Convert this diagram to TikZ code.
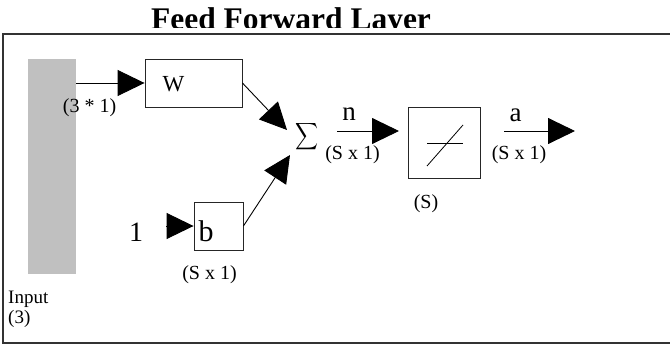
\documentclass[tikz,border=0pt]{standalone}
\usepackage{fontspec}
\setmainfont{Liberation Serif}
\usetikzlibrary{arrows.meta}
\begin{document}
\begin{tikzpicture}[x=1pt,y=-1pt,
  boxline/.style={draw=black!85, line width=0.9pt, inner sep=0pt},
  arr/.style={draw=black, line width=0.9pt, -{Triangle[length=27pt,width=26pt]}},
  lbl/.style={font=\fontsize{20}{22}\selectfont, inner sep=0pt},
  big/.style={font=\fontsize{27}{30}\selectfont, inner sep=0pt},
]
\useasboundingbox (0,0) rectangle (670,345);
% title (clipped at the bottom as in the reference)
\begin{scope}
  \clip (0,0) rectangle (670,27.5);
  \node[font=\fontsize{31.5}{34}\selectfont\bfseries, inner sep=0pt, anchor=base] (title) at (291,29.5) {Feed Forward Layer};
\end{scope}
% frame
\draw[draw=black!80, line width=1.5pt] (673,34) -- (3,34) -- (3,343) -- (673,343);
% input bar
\node[fill={rgb,255:red,192;green,192;blue,192}, minimum width=48pt, minimum height=215pt, inner sep=0pt] (bar) at (52,166.5) {};
% boxes
\node[boxline, minimum width=97pt, minimum height=48pt] (W) at (193.5,83) {};
\node[font=\fontsize{23}{25}\selectfont, inner sep=0pt, anchor=base] (Wl) at (173.5,92) {W};
\node[boxline, minimum width=49pt, minimum height=48pt] (b) at (218.5,226) {};
\node[font=\fontsize{30}{32}\selectfont, inner sep=0pt, anchor=base] (bl) at (206,241) {b};
\node[font=\fontsize{28}{30}\selectfont, inner sep=0pt, anchor=base] (one) at (136,241) {1};
\node[boxline, minimum width=72pt, minimum height=71pt] (tf) at (444,142.5) {};
\draw[line width=0.8pt] (427,143) -- (463,143);
\draw[line width=0.8pt] (427,166) -- (463,125);
% summation
\node[inner sep=0pt] (sigma) at (306.5,137) {\resizebox*{23pt}{30pt}{$\displaystyle\sum$}};
% coordinates for free arrow ends
\coordinate (s1) at (287,130);
\coordinate (s2) at (290,155);
\coordinate (oneTail) at (166,226);
\coordinate (nTail) at (337,131);
\coordinate (nTip) at (399,131);
\coordinate (aTail) at (504,131);
\coordinate (aTip) at (575,131);
% connectors
\draw[arr] (bar.east |- W.west) -- (W.west);
\draw[arr] (W.east) -- (s1);
\draw[arr] (oneTail) -- (b.west);
\draw[arr] (b.east) -- (s2);
\draw[arr] (nTail) -- (nTip);
\draw[arr] (aTail) -- (aTip);
% labels
\node[lbl] (d31) at (89.5,108) {(3 * 1)};
\node[big, anchor=base] (nl) at (349,121) {n};
\node[big, anchor=base] (al) at (515.5,121.5) {a};
\node[lbl] (dn) at (352.5,155) {(S x 1)};
\node[lbl] (da) at (519,155) {(S x 1)};
\node[lbl] (db) at (209.5,275) {(S x 1)};
\node[lbl] (ds) at (426,203.5) {(S)};
\node[font=\fontsize{19}{20}\selectfont, inner sep=0pt, anchor=base west] (inp) at (8,303) {Input};
\node[font=\fontsize{19}{20}\selectfont, inner sep=0pt, anchor=base west] (inpd) at (8,323) {(3)};
\end{tikzpicture}
\end{document}
